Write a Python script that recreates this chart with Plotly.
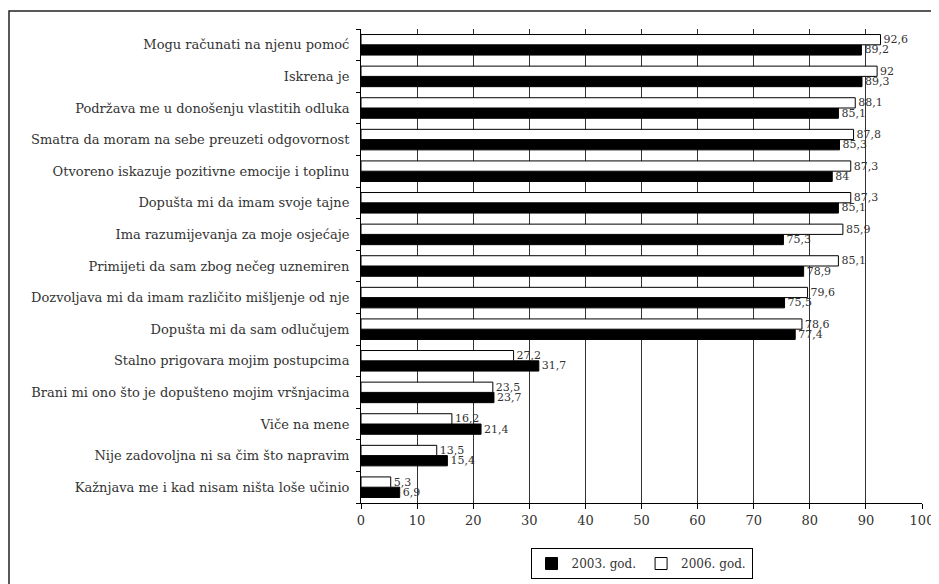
import plotly.graph_objects as go

categories = [
    "Mogu računati na njenu pomoć",
    "Iskrena je",
    "Podržava me u donošenju vlastitih odluka",
    "Smatra da moram na sebe preuzeti odgovornost",
    "Otvoreno iskazuje pozitivne emocije i toplinu",
    "Dopušta mi da imam svoje tajne",
    "Ima razumijevanja za moje osjećaje",
    "Primijeti da sam zbog nečeg uznemiren",
    "Dozvoljava mi da imam različito mišljenje od nje",
    "Dopušta mi da sam odlučujem",
    "Stalno prigovara mojim postupcima",
    "Brani mi ono što je dopušteno mojim vršnjacima",
    "Viče na mene",
    "Nije zadovoljna ni sa čim što napravim",
    "Kažnjava me i kad nisam ništa loše učinio",
]
values_2006 = [92.6, 92, 88.1, 87.8, 87.3, 87.3, 85.9, 85.1, 79.6, 78.6, 27.2, 23.5, 16.2, 13.5, 5.3]
values_2003 = [89.2, 89.3, 85.1, 85.3, 84, 85.1, 75.3, 78.9, 75.5, 77.4, 31.7, 23.7, 21.4, 15.4, 6.9]
series_names = ["2003. god.", "2006. god."]
x_ticks = list(range(0, 101, 10))


def fmt(v):
    return f"{v:g}".replace(".", ",")


FONT = "DejaVu Serif"
TXT = "#333333"

fig = go.Figure()
fig.add_trace(go.Bar(
    name=series_names[0], orientation="h", y=categories, x=values_2003,
    marker=dict(color="black", line=dict(color="black", width=1)),
    text=[fmt(v) for v in values_2003], textposition="outside",
    constraintext="none", cliponaxis=False,
    textfont=dict(family=FONT, size=11, color=TXT),
))
fig.add_trace(go.Bar(
    name=series_names[1], orientation="h", y=categories, x=values_2006,
    marker=dict(color="white", line=dict(color="black", width=1)),
    text=[fmt(v) for v in values_2006], textposition="outside",
    constraintext="none", cliponaxis=False,
    textfont=dict(family=FONT, size=11, color=TXT),
))

# the page adds an 8px body margin, so the figure is 8px smaller
W, H = 931, 576
L, R, T, B = 353, 17, 21, 81
pw, ph = W - L - R, H - T - B
bx = (1 - L) / pw
by = (H - B - 3) / ph

fig.update_layout(
    width=W, height=H,
    margin=dict(l=L, r=R, t=T, b=B, autoexpand=False),
    paper_bgcolor="white", plot_bgcolor="white",
    barmode="group", bargap=0.35, bargroupgap=0,
    font=dict(family=FONT, size=13, color=TXT),
    showlegend=True,
    legend=dict(orientation="h", x=0.5, xanchor="center", y=-0.095, yanchor="top",
                bordercolor="black", borderwidth=1, font=dict(family=FONT, size=12, color=TXT),
                itemwidth=30),
    xaxis=dict(range=[0, 100], tickvals=x_ticks, ticktext=[str(t) for t in x_ticks],
               showgrid=True, gridcolor="#333333", gridwidth=1,
               showline=True, linecolor="black", linewidth=1,
               ticks="outside", ticklen=5, tickcolor="black", automargin=False,
               zeroline=False, tickfont=dict(family=FONT, size=13, color=TXT)),
    yaxis=dict(categoryorder="array", categoryarray=categories[::-1],
               showline=True, linecolor="black", linewidth=1, automargin=False,
               ticks="outside", ticklen=4, tickcolor="black", tickson="boundaries",
               showgrid=False, tickfont=dict(family=FONT, size=13, color=TXT),
               ticklabelstandoff=8),
    shapes=[
        dict(type="rect", xref="paper", yref="paper", x0=bx, x1=1.2, y0=-0.3, y1=by,
             line=dict(color="#222222", width=1.5), fillcolor="rgba(0,0,0,0)"),
    ],
)

fig.write_html("out.html")
